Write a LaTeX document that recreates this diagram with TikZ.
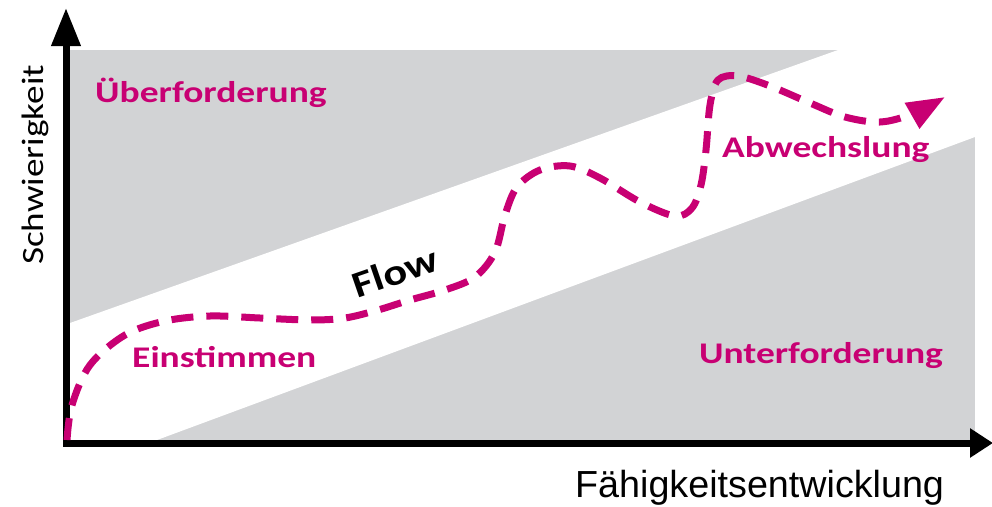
\documentclass[tikz,border=0pt]{standalone}
\usepackage{fontspec}
\usetikzlibrary{arrows.meta}
\newfontfamily\calw[FakeStretch=1.25]{Carlito}
\newfontfamily\calv[FakeStretch=1.2]{Carlito}
\newfontfamily\arialf{Liberation Sans}
\definecolor{mag}{RGB}{200,0,115}
\definecolor{bg}{RGB}{210,211,213}
\tikzset{
  region/.style={anchor=base west, inner sep=0pt, text=mag, font=\calw\bfseries\fontsize{30}{36}\selectfont},
  axislbl/.style={inner sep=0pt, text=black},
  axisline/.style={line width=7pt, -{Triangle[length=38pt,width=28pt]}},
  flowpath/.style={draw=mag, line width=7pt, dash pattern=on 22pt off 13pt, -{Triangle[length=38pt,width=28pt,fill=mag]}}
}
\begin{document}
\begin{tikzpicture}[x=1pt,y=-1pt]
\useasboundingbox (0,0) rectangle (992,506);
% background regions
\fill[bg] (70,50) rectangle (975,440);
\fill[white] (70,323) -- (838,50) -- (975,50) -- (975,137) -- (157,440) -- (70,440) -- cycle;
% axes
\coordinate (o) at (66,443);
\coordinate (ytop) at (66,8);
\coordinate (xend) at (993,443);
\draw[axisline] (66,446) -- (ytop);
\draw[axisline, -{Triangle[length=23pt,width=28pt]}] (63,443) -- (xend);
% flow path
\draw[flowpath] plot[smooth, tension=0.55] coordinates {
 (67,440) (72,405) (90,365) (125,335) (165,321) (210,316) (260,318) (310,320)
 (345,318) (378,310) (410,300) (445,290) (475,277) (495,252) (505,215) (517,187) (540,170)
 (570,166) (600,178) (640,202) (675,216) (692,208) (701,185) (706,150) (710,105)
 (718,80) (738,76) (770,86) (810,103) (845,117) (880,122) (912,114) (945,97)};
% labels
\node[region] (ueber) at (95,102) {Überforderung};
\node[region] (ein) at (132,367) {Einstimmen};
\node[region] (unter) at (699,363) {Unterforderung};
\node[region] (abw) at (722,157) {Abwechslung};
\node[inner sep=0pt, rotate=19, font=\calv\bfseries\fontsize{37}{42}\selectfont] (flow) at (395,272) {Flow};
\node[axislbl, rotate=90, anchor=base, font=\calv\fontsize{31}{36}\selectfont] (ylbl) at (43,165) {Schwierigkeit};
\node[axislbl, anchor=base west, font=\arialf\fontsize{37.7}{42}\selectfont] (xlbl) at (575,497) {Fähigkeitsentwicklung};
\end{tikzpicture}
\end{document}
